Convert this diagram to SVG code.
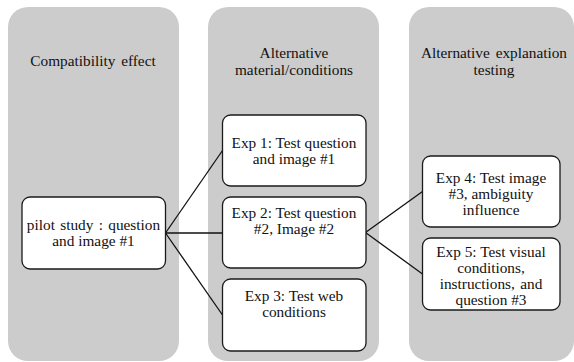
<svg xmlns="http://www.w3.org/2000/svg" width="574" height="362" viewBox="0 0 574 362">
<style>
.col{fill:#cccccc;stroke:none}
.box{fill:#ffffff;stroke:#1a1a1a;stroke-width:1.3}
.c{stroke:#111;stroke-width:1.3;fill:none}
</style>
<rect width="574" height="362" fill="#ffffff"/>
<g font-family="'Liberation Serif', 'Times New Roman', Tinos, 'DejaVu Serif', serif" font-size="15.3" fill="#111" text-anchor="middle">
<g id="col-compatibility">
<rect class="col" x="8" y="7" width="171" height="354" rx="20"/>
<text x="93" y="66" word-spacing="2">Compatibility effect</text>
</g>
<g id="col-alternative-material">
<rect class="col" x="208" y="7" width="171" height="354" rx="20"/>
<text x="294" y="58">Alternative</text>
<text x="294" y="74.5">material/conditions</text>
</g>
<g id="col-alternative-explanation">
<rect class="col" x="409" y="7" width="165" height="354" rx="20"/>
<text x="494" y="58" word-spacing="2">Alternative explanation</text>
<text x="494" y="74.5">testing</text>
</g>
<g id="connectors">
<line class="c" x1="165.5" y1="233" x2="222.5" y2="150.5"/>
<line class="c" x1="165.5" y1="233" x2="222.5" y2="233"/>
<line class="c" x1="165.5" y1="233" x2="222.5" y2="315"/>
<line class="c" x1="365.5" y1="232.5" x2="422.5" y2="191.5"/>
<line class="c" x1="365.5" y1="232.5" x2="422.5" y2="274"/>
</g>
<g id="pilot">
<rect class="box" x="22" y="197" width="143.5" height="72" rx="8"/>
<text x="93.5" y="229.5" word-spacing="1.5">pilot study : question</text>
<text x="93.5" y="246">and image #1</text>
</g>
<g id="exp1">
<rect class="box" x="222.5" y="115" width="143.5" height="71" rx="8"/>
<text x="294" y="148">Exp 1: Test question</text>
<text x="294" y="164">and image #1</text>
</g>
<g id="exp2">
<rect class="box" x="222.5" y="197" width="143.5" height="71" rx="8"/>
<text x="294" y="218">Exp 2: Test question</text>
<text x="294" y="234">#2, Image #2</text>
</g>
<g id="exp3">
<rect class="box" x="222.5" y="279" width="143.5" height="72" rx="8"/>
<text x="294" y="301">Exp 3: Test web</text>
<text x="294" y="317">conditions</text>
</g>
<g id="exp4">
<rect class="box" x="422.5" y="156" width="137.5" height="71" rx="8"/>
<text x="491" y="183">Exp 4: Test image</text>
<text x="491" y="199">#3, ambiguity</text>
<text x="491" y="215">influence</text>
</g>
<g id="exp5">
<rect class="box" x="422.5" y="238" width="137.5" height="72" rx="8"/>
<text x="491" y="257">Exp 5: Test visual</text>
<text x="491" y="273">conditions,</text>
<text x="491" y="289" word-spacing="1.5">instructions, and</text>
<text x="491" y="305">question #3</text>
</g>
</g>
</svg>
